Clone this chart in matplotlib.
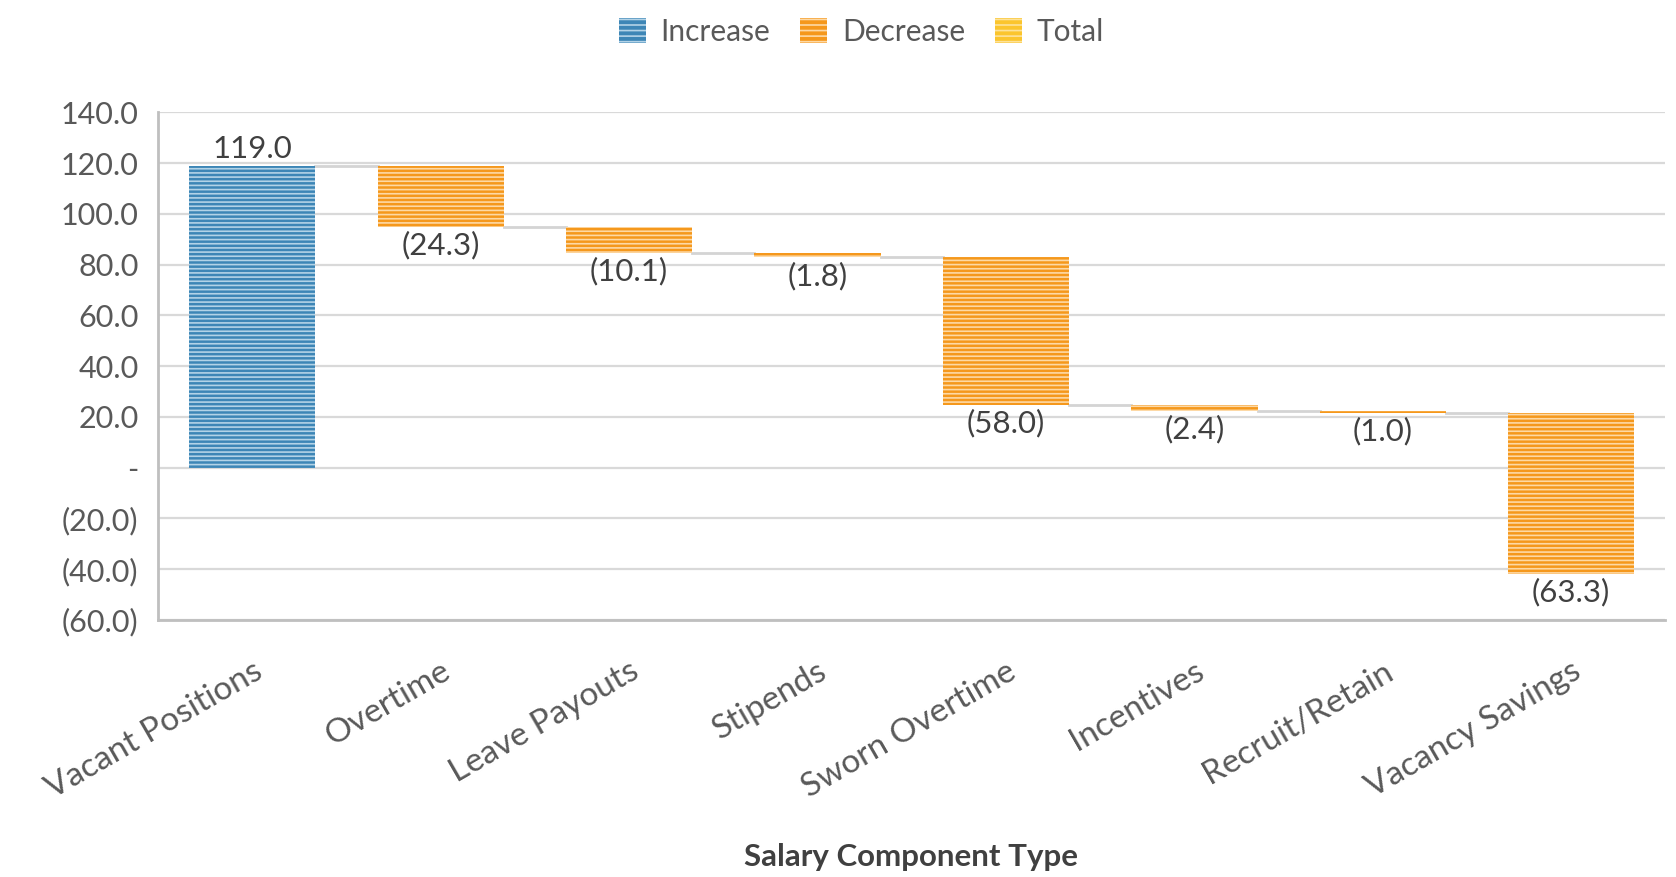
import matplotlib
matplotlib.use("Agg")
import matplotlib.pyplot as plt
from matplotlib.patches import Patch
from matplotlib.ticker import FuncFormatter

categories = ["Vacant Positions", "Overtime", "Leave Payouts", "Stipends",
              "Sworn Overtime", "Incentives", "Recruit/Retain", "Vacancy Savings"]
changes = [119.0, -24.3, -10.1, -1.8, -58.0, -2.4, -1.0, -63.3]
y_ticks = [-60, -40, -20, 0, 20, 40, 60, 80, 100, 120, 140]

blue = "#3d86b6"
orange = "#f5981c"
yellow = "#fbc52d"
text_col = "#595959"

plt.rcParams["font.family"] = ["Lato", "DejaVu Sans"]
plt.rcParams["hatch.linewidth"] = 1.2

fig = plt.figure(figsize=(16.76, 8.77), dpi=100)
ax = fig.add_axes([0.0943, 0.293, 0.8994, 0.579])

running = 0.0
ends = []
for i, v in enumerate(changes):
    start = running
    running = running + v
    ends.append(running)
    if v >= 0:
        fc, hc = blue, "#b3d3e7"
    else:
        fc, hc = orange, "#fdd9a6"
    ax.bar(i, v, bottom=start, width=0.67, color=fc, edgecolor=hc,
           linewidth=0, hatch="----", zorder=3)
    if v >= 0:
        ax.text(i, running + 1.0, f"{v:.1f}", ha="center", va="bottom",
                fontsize=22.5, color="#404040", zorder=4)
    else:
        ax.text(i, running - 1.5, f"({abs(v):.1f})", ha="center", va="top",
                fontsize=22.5, color="#404040", zorder=4)

# connector lines
for i in range(len(changes) - 1):
    ax.plot([i + 0.335, i + 1 - 0.335], [ends[i], ends[i]],
            color="#d4d4d4", lw=2, zorder=2)

ax.set_xlim(-0.5, len(categories) - 0.5)
ax.set_ylim(-60, 140)
ax.set_yticks(y_ticks)


def fmt(y, pos):
    if abs(y) < 1e-9:
        return "-"
    if y < 0:
        return f"({abs(y):.1f})"
    return f"{y:.1f}"


ax.yaxis.set_major_formatter(FuncFormatter(fmt))
ax.grid(axis="y", color="#d9d9d9", lw=1.6, zorder=0)
ax.set_axisbelow(True)
for s in ["top", "right"]:
    ax.spines[s].set_visible(False)
for s in ["left", "bottom"]:
    ax.spines[s].set_color("#bfbfbf")
    ax.spines[s].set_linewidth(2)

ax.tick_params(axis="y", length=0, pad=14, labelsize=22, labelcolor=text_col)
ax.set_xticks(range(len(categories)))
ax.set_xticklabels(categories, rotation=30, ha="right", rotation_mode="anchor",
                   fontsize=24, color=text_col)
ax.tick_params(axis="x", length=0, pad=26)

fig.text(0.5435, 0.023, "Salary Component Type", ha="center", va="center",
         fontsize=22.5, fontweight="bold", color="#404040")

handles = [
    Patch(facecolor=blue, edgecolor="#b3d3e7", hatch="---", linewidth=0, label="Increase"),
    Patch(facecolor=orange, edgecolor="#fdd9a6", hatch="---", linewidth=0, label="Decrease"),
    Patch(facecolor=yellow, edgecolor="#fde29a", hatch="---", linewidth=0, label="Total"),
]
leg = fig.legend(handles=handles, loc="upper center", bbox_to_anchor=(0.514, 1.01),
                 ncol=3, frameon=False, fontsize=21.5, handlelength=0.9,
                 handleheight=0.9, handletextpad=0.5, columnspacing=1.0)
for t in leg.get_texts():
    t.set_color(text_col)

fig.savefig("out.png", dpi=100)
